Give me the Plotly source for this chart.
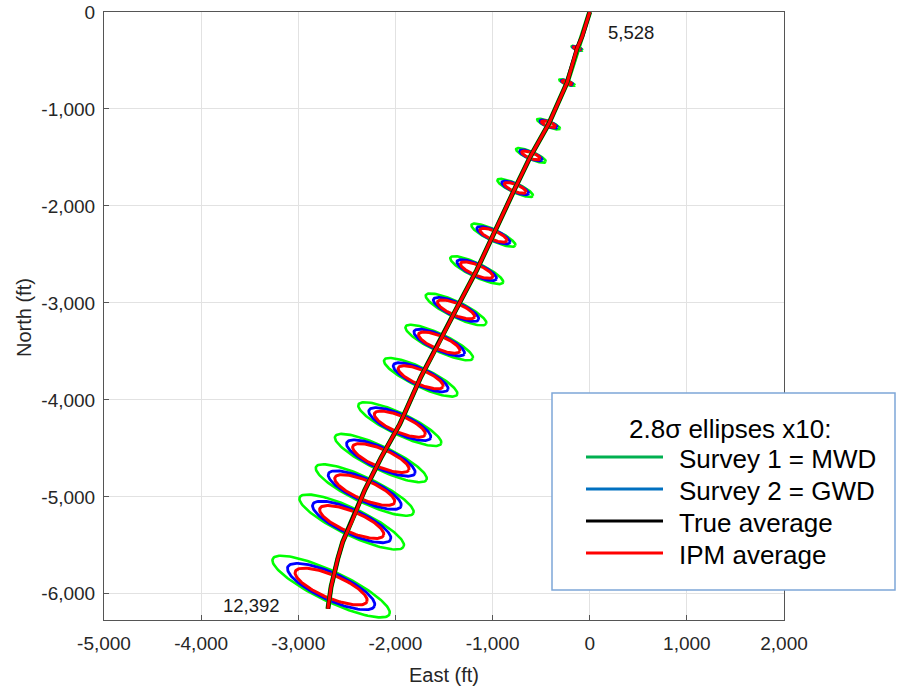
import numpy as np
import plotly.graph_objects as go

# ---------------- data ----------------
# well path (true / IPM average), feet
path_east = [0, -44, -78, -130, -233, -423, -605, -767, -991, -1163, -1376, -1549,
             -1740, -1955, -2150, -2316, -2450, -2543, -2594, -2662, -2695]
path_north = [0, -134, -254, -374, -728, -1156, -1479, -1814, -2302, -2662, -3067, -3409,
              -3767, -4250, -4600, -4930, -5259, -5465, -5640, -5925, -6154]

# survey stations where ellipses are drawn
station_east = [-130, -233, -423, -605, -767, -991, -1163, -1376, -1549, -1740,
                -1955, -2150, -2316, -2450, -2662]
station_north = [-374, -728, -1156, -1479, -1814, -2302, -2662, -3067, -3409, -3767,
                 -4250, -4600, -4930, -5259, -5925]
station_angle = [-19, -19, -21, -22, -23, -24, -24, -24, -24, -24, -24, -24, -24, -24, -24]

# ellipse semi-axes (ft, already x10)
mwd_major = [60, 85, 127, 166, 200, 250, 300, 344, 383, 416, 471, 521, 555, 593, 665]
mwd_minor = [16, 20, 30, 39, 47, 58, 70, 80, 89, 97, 110, 120, 128, 138, 154]
gwd_major = [48, 64, 95, 124, 150, 186, 222, 255, 284, 308, 348, 385, 410, 440, 490]
gwd_minor = [14, 18, 27, 35, 42, 53, 63, 72, 80, 87, 99, 108, 115, 124, 139]
ipm_major = [38, 52, 77, 100, 120, 150, 180, 206, 230, 250, 283, 313, 333, 356, 400]
ipm_minor = [12, 15, 23, 30, 36, 45, 53, 61, 68, 74, 84, 92, 98, 106, 118]

md_start_label = "5,528"
md_end_label = "12,392"

x_ticks = [-5000, -4000, -3000, -2000, -1000, 0, 1000, 2000]
x_tick_labels = ["-5,000", "-4,000", "-3,000", "-2,000", "-1,000", "0", "1,000", "2,000"]
y_ticks = [0, -1000, -2000, -3000, -4000, -5000, -6000]
y_tick_labels = ["0", "-1,000", "-2,000", "-3,000", "-4,000", "-5,000", "-6,000"]

legend_title = "2.8\u03c3 ellipses x10:"
legend_names = ["Survey 1 = MWD", "Survey 2 = GWD", "True average", "IPM average"]
legend_colors = ["#00B050", "#0070C0", "#000000", "#FF0000"]

FONT = "Arial, 'Liberation Sans', sans-serif"

fig = go.Figure()


def ellipse_trace(major, minor, ang_off, color, width):
    t = np.linspace(0, 2 * np.pi, 121)
    xs, ys = [], []
    for cx, cy, a, b, ang in zip(station_east, station_north, major, minor, station_angle):
        th = np.deg2rad(ang + ang_off)
        ex = a * np.cos(t)
        ey = b * np.sin(t)
        xs += list(cx + ex * np.cos(th) - ey * np.sin(th)) + [None]
        ys += list(cy + ex * np.sin(th) + ey * np.cos(th)) + [None]
    return go.Scatter(x=xs, y=ys, mode="lines", line=dict(color=color, width=width),
                      hoverinfo="skip", showlegend=False)


fig.add_trace(ellipse_trace(mwd_major, mwd_minor, -1.5, "#00FF00", 2.6))
fig.add_trace(ellipse_trace(gwd_major, gwd_minor, -0.5, "#0000FF", 2.8))
fig.add_trace(ellipse_trace(ipm_major, ipm_minor, 1.0, "#FF0000", 3.0))

# path lines
fig.add_trace(go.Scatter(x=path_east, y=path_north, mode="lines",
                         line=dict(color="#00C000", width=5), hoverinfo="skip", showlegend=False))
fig.add_trace(go.Scatter(x=path_east, y=path_north, mode="lines",
                         line=dict(color="#000000", width=4.2), hoverinfo="skip", showlegend=False))
fig.add_trace(go.Scatter(x=path_east, y=path_north, mode="lines",
                         line=dict(color="#FF0000", width=3.2), hoverinfo="skip", showlegend=False))

# plot geometry in px (for paper-coordinate legend placement)
L, R, T, B = 104, 113, 12, 71
W, H = 897, 691
pw, ph = W - L - R, H - T - B


def px_x(px):
    return (px - L) / pw


def px_y(py):
    return (H - B - py) / ph


annotations = [
    dict(x=430, y=-216, xref="x", yref="y", text=md_start_label, showarrow=False,
         font=dict(size=18.5, color="#1a1a1a", family=FONT)),
    dict(x=-3482, y=-6123, xref="x", yref="y", text=md_end_label, showarrow=False,
         font=dict(size=18.5, color="#1a1a1a", family=FONT)),
    dict(x=px_x(444), y=px_y(675), xref="paper", yref="paper", text="East (ft)",
         showarrow=False, xanchor="center", yanchor="middle",
         font=dict(size=20, color="#262626", family=FONT)),
    dict(x=px_x(24), y=px_y(318), xref="paper", yref="paper", text="North (ft)",
         showarrow=False, xanchor="center", yanchor="middle", textangle=-90,
         font=dict(size=20, color="#262626", family=FONT)),
    dict(x=px_x(730), y=px_y(429), xref="paper", yref="paper", text=legend_title,
         showarrow=False, xanchor="center", yanchor="middle",
         font=dict(size=26, color="#000000", family=FONT)),
]

shapes = [
    dict(type="rect", xref="paper", yref="paper", x0=px_x(552), x1=px_x(895),
         y0=px_y(590), y1=px_y(393), line=dict(color="#7EA6D8", width=1.5),
         fillcolor="white", layer="above"),
]

line_y = [457, 489, 521, 553]
for name, col, ly in zip(legend_names, legend_colors, line_y):
    shapes.append(dict(type="line", xref="paper", yref="paper", x0=px_x(586), x1=px_x(663),
                       y0=px_y(ly), y1=px_y(ly), line=dict(color=col, width=3), layer="above"))
    annotations.append(dict(x=px_x(677), y=px_y(ly + 2), xref="paper", yref="paper", text=name,
                            showarrow=False, xanchor="left", yanchor="middle",
                            font=dict(size=26, color="#000000", family=FONT)))

axis_common = dict(
    showgrid=True, gridcolor="#E2E2E2", gridwidth=1,
    showline=True, linecolor="#555555", linewidth=1, mirror=True,
    ticks="inside", ticklen=5, tickcolor="#555555",
    zeroline=False, automargin=False,
    tickfont=dict(size=19, color="#262626", family=FONT),
)

fig.update_layout(
    width=W, height=H,
    margin=dict(l=L, r=R, t=T, b=B, pad=0, autoexpand=False),
    paper_bgcolor="white", plot_bgcolor="white",
    xaxis=dict(range=[-5000, 2000], tickvals=x_ticks, ticktext=x_tick_labels,
               ticklabelstandoff=6, **axis_common),
    yaxis=dict(range=[-6270, 0], tickvals=y_ticks, ticktext=y_tick_labels,
               ticklabelstandoff=4, **axis_common),
    annotations=annotations,
    shapes=shapes,
    showlegend=False,
)

fig.write_html("out.html")
